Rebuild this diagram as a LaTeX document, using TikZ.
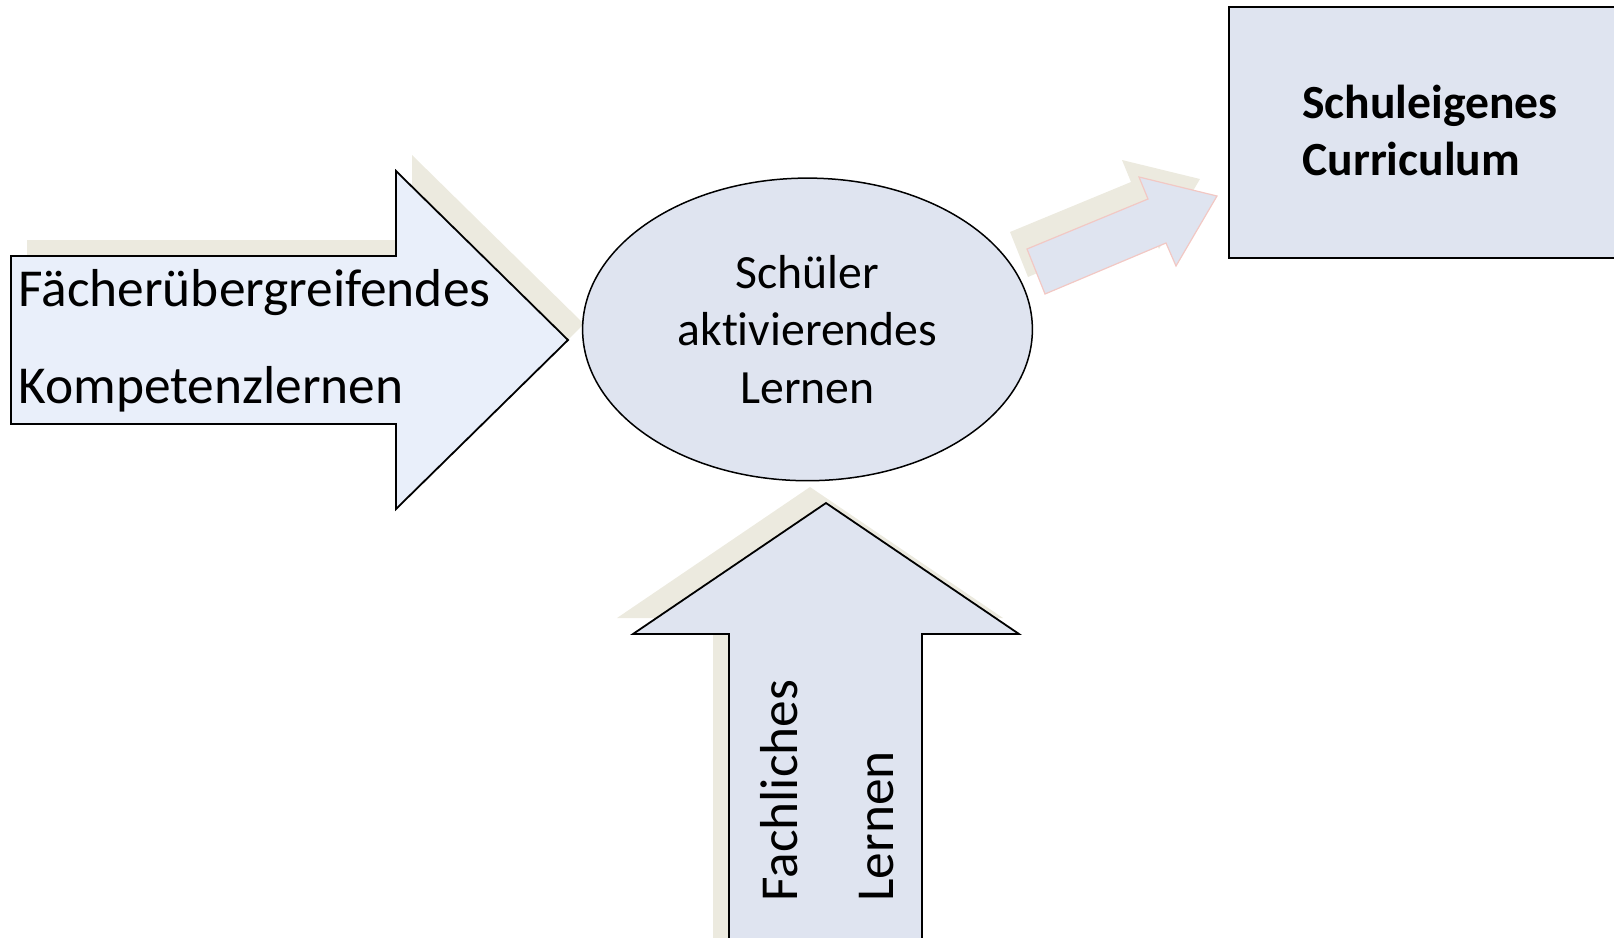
\documentclass[tikz,border=0pt]{standalone}
\usepackage{tikz}
\usepackage{xcolor}
\usepackage{fontspec}
\setmainfont[Ligatures={NoCommon,NoContextual}]{Carlito}
\usetikzlibrary{shapes.geometric}

\definecolor{shadebeige}{HTML}{ECEADF}
\definecolor{lightblue}{HTML}{E9EFFA}
\definecolor{greyblue}{HTML}{DFE4F0}
\definecolor{rosered}{HTML}{F2C8C4}

\begin{document}
\begin{tikzpicture}[x=0.5pt, y=-0.5pt]
	\tikzstyle{beigeshade}=[fill=shadebeige]
	\tikzstyle{blockarrow}=[draw=black, line width=0.9pt, line join=miter]
	\tikzstyle{armtext}=[inner sep=0pt, anchor=base west, font=\fontsize{26.7}{32}\selectfont]
	\useasboundingbox (0,0) rectangle (1614,938);
	\clip (0,0) rectangle (1614,938);
	
	% shadows
	\fill[beigeshade, shift={(16,-16)}] (11,256) -- (396,256) -- (396,171) -- (568,340) -- (396,509) -- (396,424) -- (11,424) -- cycle;
	\fill[beigeshade, shift={(-16,-16)}] (729,960) -- (729,634) -- (633,634) -- (826,503) -- (1019,634) -- (922,634) -- (922,960) -- cycle;
	\fill[beigeshade, shift={(-17,-17)}] (1045,294) -- (1027,249) -- (1148,199) -- (1139,177) -- (1217,196) -- (1176,266) -- (1166,243) -- cycle;
	
	% arrows
	\draw[blockarrow, fill=lightblue] (11,256) -- (396,256) -- (396,171) -- (568,340) -- (396,509) -- (396,424) -- (11,424) -- cycle;
	\draw[blockarrow, fill=greyblue] (729,960) -- (729,634) -- (633,634) -- (826,503) -- (1019,634) -- (922,634) -- (922,960) -- cycle;
	\draw[draw=rosered, line width=0.6pt, fill=greyblue] (1045,294) -- (1027,249) -- (1148,199) -- (1139,177) -- (1217,196) -- (1176,266) -- (1166,243) -- cycle;
	
	\node[ellipse, draw=black, line width=0.75pt, fill=greyblue, minimum width=224.9pt, minimum height=151.3pt, inner sep=0pt, align=center, font=\fontsize{23.85}{28.8}\selectfont] (schueler) at (807.5,329.4) {Schüler\\aktivierendes\\Lernen};
	\node[draw=black, line width=1pt, fill=greyblue, minimum width=210pt, minimum height=125.5pt, anchor=north west, inner sep=0pt] (curriculum) at (1228,6) {};
	
	\node[armtext] (faecher) at (18,306) {Fächerübergreifendes};
	\node[armtext] (kompetenz) at (18,403.5) {Kompetenzlernen};
	\node[armtext, font=\bfseries\fontsize{23.8}{28.6}\selectfont] (schuleigen) at (1302,118) {Schuleigenes};
	\node[armtext, font=\bfseries\fontsize{23.8}{28.6}\selectfont] (curric) at (1302,175) {Curriculum};
	\node[armtext, rotate=90] (fachlich) at (797,902) {Fachliches};
	\node[armtext, rotate=90] (lernen) at (893,902) {Lernen};
\end{tikzpicture}
\end{document}
